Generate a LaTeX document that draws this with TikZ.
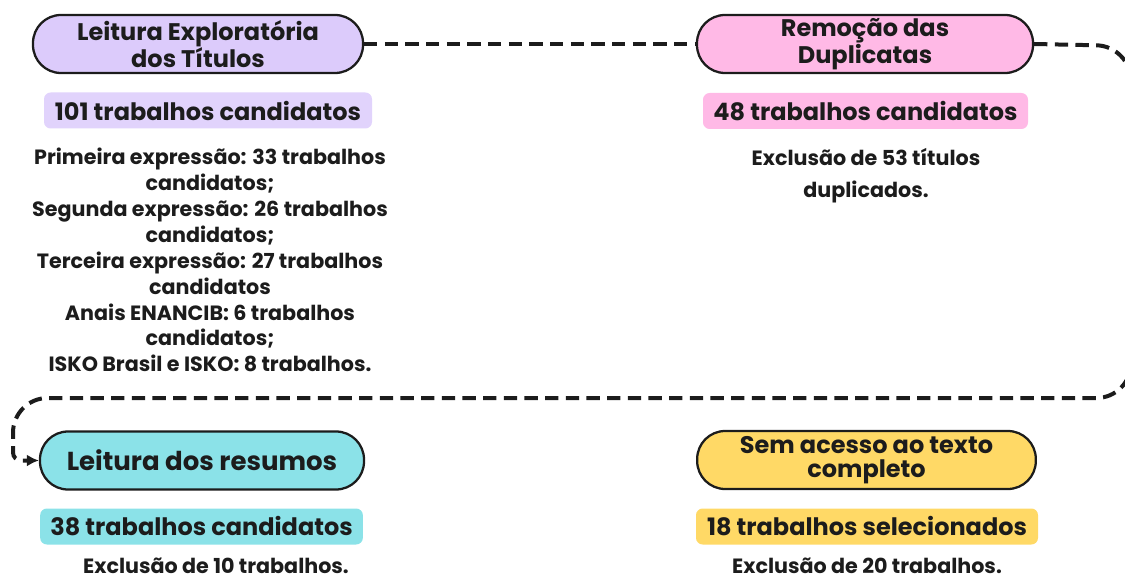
\documentclass[tikz,border=0pt]{standalone}
\usepackage{fontspec}
\usetikzlibrary{arrows.meta}
\setmainfont{Poppins}
\definecolor{ink}{HTML}{1C1C1C}
\definecolor{lav}{HTML}{DCCBFB}
\definecolor{pinkc}{HTML}{FFB9E6}
\definecolor{cyanc}{HTML}{8BE2E8}
\definecolor{yelc}{HTML}{FFD966}
\tikzset{
  stagebox/.style={draw=ink, line width=1.7pt, rounded corners=21pt, minimum height=43.5pt,
    align=center, text=ink, inner sep=0pt,
    font=\bfseries\fontsize{18}{18.5}\selectfont},
  hlbox/.style={rounded corners=5pt, minimum height=27pt, inner sep=0pt, text=ink,
    font=\bfseries\fontsize{18}{16}\selectfont},
  bodytext/.style={align=center, text=ink, inner sep=0pt},
  flow/.style={draw=ink, line width=3pt, dash pattern=on 10pt off 5.5pt}
}
\begin{document}
\begin{tikzpicture}[x=0.75pt,y=-0.75pt]
\useasboundingbox (0,0) rectangle (1125,581);
\clip (0,0) rectangle (1125,581);
% stage boxes
\node[stagebox, fill=lav, minimum width=247.5pt] (b1) at (198,44) {Leitura Exploratória\\dos Títulos};
\node[stagebox, fill=pinkc, minimum width=252pt] (b2) at (865,44) {Remoção das\\Duplicatas};
\node[stagebox, fill=cyanc, minimum width=243pt, font=\bfseries\fontsize{19.5}{18.5}\selectfont] (b3) at (202,460.5) {Leitura dos resumos};
\node[stagebox, fill=yelc, minimum width=254pt] (b4) at (866.5,460) {Sem acesso ao texto\\completo};
% highlight boxes
\node[hlbox, fill=lav!85!white, minimum width=246pt] (h1) at (208,110.5) {101 trabalhos candidatos};
\node[hlbox, fill=pinkc, minimum width=243.75pt] (h2) at (865.5,111) {48 trabalhos candidatos};
\node[hlbox, fill=cyanc, minimum width=242pt] (h3) at (201.5,526.5) {38 trabalhos candidatos};
\node[hlbox, fill=yelc, minimum width=256.5pt] (h4) at (867,526.5) {18 trabalhos selecionados};
% body texts
\node[bodytext, font=\bfseries\fontsize{15.5}{19.4}\selectfont, anchor=north] (t1) at (210,148)
 {Primeira expressão: 33 trabalhos\\candidatos;\\Segunda expressão: 26 trabalhos\\candidatos;\\Terceira expressão: 27 trabalhos\\candidatos\\Anais ENANCIB: 6 trabalhos\\candidatos;\\ISKO Brasil e ISKO: 8 trabalhos.};
\node[bodytext, font=\bfseries\fontsize{15.5}{24}\selectfont, anchor=north] (t2) at (866,148)
 {Exclusão de 53 títulos\\duplicados.};
\node[bodytext, font=\bfseries\fontsize{15.5}{19.4}\selectfont] (t3) at (216,566) {Exclusão de 10 trabalhos.};
\node[bodytext, font=\bfseries\fontsize{15.5}{19.4}\selectfont] (t4) at (867,566) {Exclusão de 20 trabalhos.};
% connectors
\draw[flow] (b1.east) -- (b2.west);
\draw[flow, -{Latex[length=9pt,width=9pt]}, rounded corners=26pt]
  (b2.east) -- (1131,46) -- (1131,398) -- (13,398) [rounded corners=6pt] -- (13,460.5) -- (b3.west);
\end{tikzpicture}
\end{document}
